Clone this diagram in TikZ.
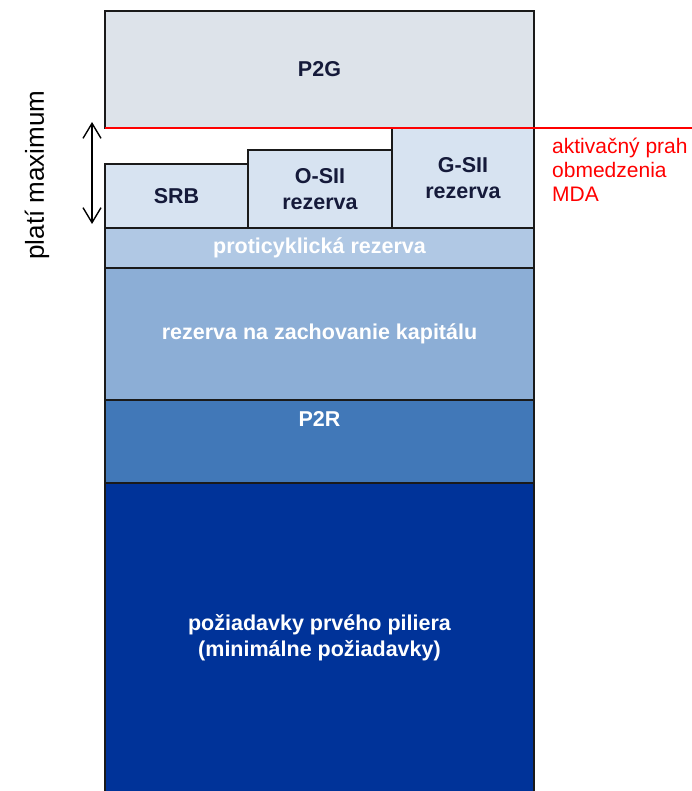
\documentclass[tikz,border=0pt]{standalone}
\usepackage{fontspec}
\setmainfont{Liberation Sans}
\usetikzlibrary{arrows.meta}
\definecolor{boxline}{HTML}{1A1A1A}
\definecolor{navytext}{HTML}{151A3A}
\definecolor{ptwogfill}{HTML}{DDE3EA}
\definecolor{bufferfill}{HTML}{D7E3F1}
\definecolor{ccybfill}{HTML}{B0C8E4}
\definecolor{ccbfill}{HTML}{8CAED6}
\definecolor{ptworfill}{HTML}{4178B8}
\definecolor{pillarfill}{HTML}{003399}
\definecolor{mdared}{HTML}{FF0000}
\tikzset{
  box/.style={draw=boxline,line width=1.5pt,anchor=north west,inner sep=0pt,outer sep=0pt,
    align=center,font=\fontsize{21.5}{26}\selectfont\bfseries},
  lbl/.style={inner sep=0pt,font=\fontsize{21.5}{26}\selectfont\bfseries}
}
\begin{document}
\begin{tikzpicture}[x=1pt,y=-1pt]
		\useasboundingbox (0,0) rectangle (692,791);
		% stlpec poziadaviek
		\node[box,fill=pillarfill,text=white,minimum width=429,minimum height=310] (pillar) at (105,483) {po\v{z}iadavky prv\'{e}ho piliera\\(minim\'{a}lne po\v{z}iadavky)};
		\node[box,fill=ptworfill,minimum width=429,minimum height=83] (ptwor) at (105,400) {};
		\node[lbl,text=white,anchor=north,yshift=-11pt] (ptwortext) at (ptwor.north) {P2R};
		\node[box,fill=ccbfill,text=white,minimum width=429,minimum height=132] (ccb) at (105,268) {rezerva na zachovanie kapit\'{a}lu};
		\node[box,fill=ccybfill,text=white,minimum width=429,minimum height=40] (ccyb) at (105,228) {proticyklick\'{a} rezerva};
		% systemove rezervy
		\node[box,fill=bufferfill,text=navytext,minimum width=143,minimum height=64] (srb) at (105,164) {SRB};
		\node[box,fill=bufferfill,text=navytext,minimum width=144,minimum height=78] (osii) at (248,150) {O-SII\\rezerva};
		\node[box,fill=bufferfill,text=navytext,minimum width=142,minimum height=100] (gsii) at (392,128) {G-SII\\rezerva};
		% P2G
		\node[box,fill=ptwogfill,text=navytext,minimum width=429,minimum height=117] (ptwog) at (105,11) {P2G};
		% prah MDA
		\coordinate (mdaend) at (692,128);
		\draw[mdared,line width=2pt] (ptwog.south west) -- (mdaend);
		\node[anchor=north west,inner sep=0pt,align=left,text=mdared,font=\fontsize{21}{24}\selectfont] (mdatext) at (552,138) {aktiva\v{c}n\'{y} prah\\obmedzenia\\MDA};
		% plati maximum
		\coordinate (maxtop) at (92,122);
		\coordinate (maxbot) at (92,224);
		\draw[{Straight Barb[length=15pt,width=18pt]}-{Straight Barb[length=15pt,width=18pt]},line width=1.4pt] (maxtop) -- (maxbot);
		\node[rotate=90,inner sep=0pt,font=\fontsize{26}{30}\selectfont] (maxtext) at (37,175) {plat\'{i} maximum};
\end{tikzpicture}
\end{document}
